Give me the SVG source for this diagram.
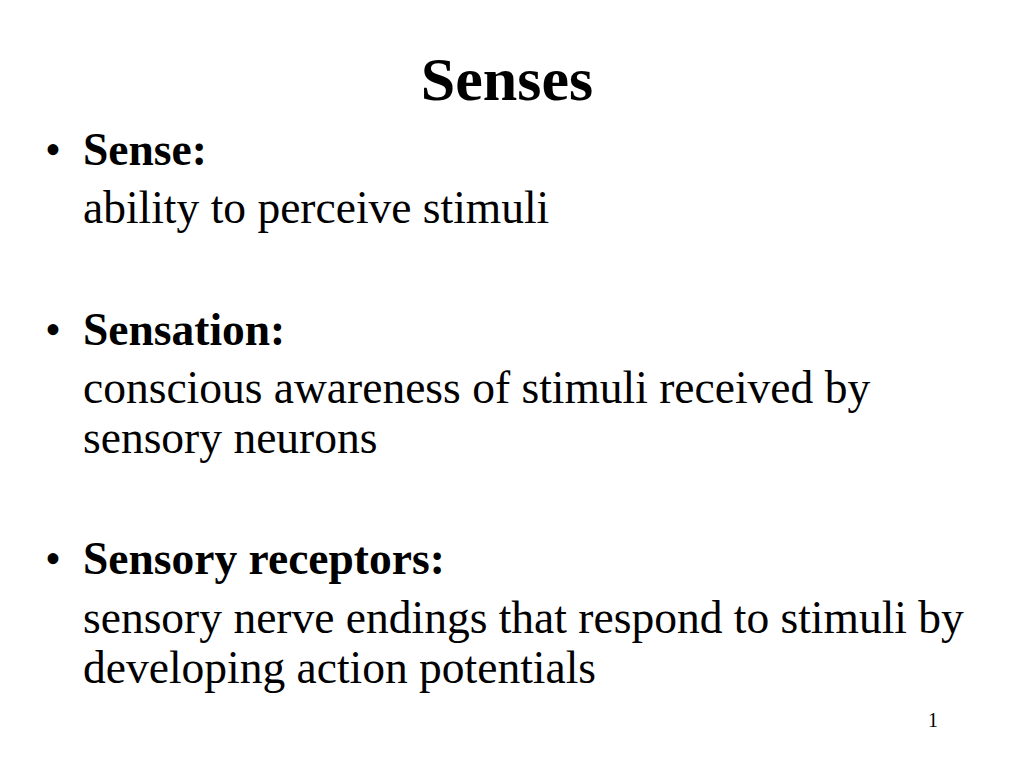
<svg xmlns="http://www.w3.org/2000/svg" width="1024" height="768" viewBox="0 0 1024 768">
<style>
text{font-family:"Liberation Serif","Times New Roman",serif;fill:#000}
.t{font-size:62px;font-weight:bold}
.b{font-size:45.5px;font-weight:bold}
.r{font-size:45.5px}
.n{font-size:20px}
</style>
<rect width="1024" height="768" fill="#fff"/>
<text class="t" x="507" y="100" text-anchor="middle">Senses</text>
<g id="item1">
<text class="r" x="45" y="165">•</text>
<text class="b" x="83" y="165">Sense:</text>
<text class="r" x="83" y="223">ability to perceive stimuli</text>
</g>
<g id="item2">
<text class="r" x="45" y="345">•</text>
<text class="b" x="83" y="345">Sensation:</text>
<text class="r" x="83" y="403">conscious awareness of stimuli received by</text>
<text class="r" x="83" y="453">sensory neurons</text>
</g>
<g id="item3">
<text class="r" x="45" y="574">•</text>
<text class="b" x="83" y="574">Sensory receptors:</text>
<text class="r" x="83" y="633">sensory nerve endings that respond to stimuli by</text>
<text class="r" x="83" y="683">developing action potentials</text>
</g>
<text class="n" x="928" y="727">1</text>
</svg>
